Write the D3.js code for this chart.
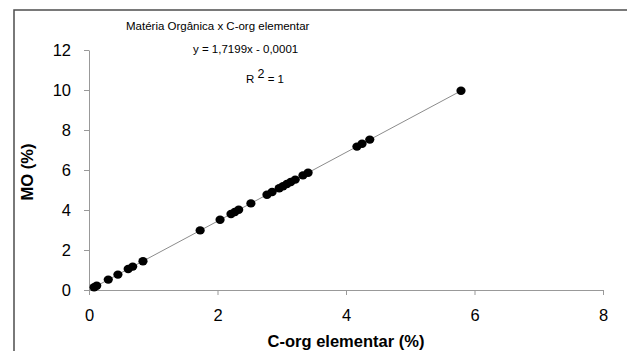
<!DOCTYPE html>
<html><head><meta charset="utf-8">
<script src="https://cdn.jsdelivr.net/npm/d3@7"></script>
<style>body{margin:0;background:#fff}svg{display:block;font-family:Arial,"Liberation Sans",sans-serif}</style>
</head><body><svg id="c" width="627" height="351"></svg>
<script>
const corgX = [0.08,0.12,0.3,0.45,0.61,0.68,0.84,1.73,2.04,2.21,2.27,2.33,2.52,2.77,2.85,2.96,3.02,3.08,3.14,3.21,3.33,3.41,4.17,4.25,4.37,5.79];
const moY   = [0.14,0.21,0.52,0.77,1.05,1.17,1.44,2.98,3.51,3.80,3.90,4.01,4.33,4.76,4.90,5.09,5.19,5.30,5.40,5.52,5.73,5.86,7.17,7.31,7.52,9.96];
const xTicks = [0,2,4,6,8];
const yTicks = [0,2,4,6,8,10,12];
const slope = 1.7199, intercept = -0.0001;
const titleText = "Matéria Orgânica x C-org elementar";
const eqText = "y = 1,7199x - 0,0001";
const xTitle = "C-org elementar (%)";
const yTitle = "MO (%)";

const svg = d3.select("#c");
svg.append("rect").attr("x",14).attr("y",10).attr("width",640).attr("height",400)
  .attr("fill","#fff").attr("stroke","#4d4d4d").attr("stroke-width",1.5);

const x = d3.scaleLinear().domain([0,8]).range([89,603]);
const y = d3.scaleLinear().domain([0,12]).range([290,50]);

const gx = svg.append("g").attr("transform","translate(0,290)")
  .call(d3.axisBottom(x).tickValues(xTicks).tickSize(5).tickPadding(14).tickSizeOuter(0));
const gy = svg.append("g").attr("transform","translate(89,0)")
  .call(d3.axisLeft(y).tickValues(yTicks).tickSize(5).tickPadding(13).tickSizeOuter(0));
[gx,gy].forEach(g=>{
  g.select(".domain").attr("stroke","#999");
  g.selectAll(".tick line").attr("stroke","#999");
  g.selectAll(".tick text").attr("font-size",16.5).attr("fill","#000").attr("font-family","Arial, 'Liberation Sans', sans-serif");
});

const xr=[0, d3.max(corgX)];
svg.append("line").attr("x1",x(xr[0])).attr("y1",y(slope*xr[0]+intercept))
  .attr("x2",x(xr[1])).attr("y2",y(slope*xr[1]+intercept))
  .attr("stroke","#8c8c8c").attr("stroke-width",1);

svg.append("g").selectAll("ellipse").data(corgX).join("ellipse")
  .attr("cx",(d)=>x(d)).attr("cy",(d,i)=>y(moY[i])).attr("rx",4.6).attr("ry",4.2).attr("fill","#000");

svg.append("text").attr("x",126).attr("y",30).attr("font-size",11.5).text(titleText);
svg.append("text").attr("x",193).attr("y",53).attr("font-size",11.5).text(eqText);
const r2 = svg.append("text").attr("x",246).attr("y",83).attr("font-size",11.5);
r2.append("tspan").text("R ");
r2.append("tspan").attr("dy",-5).attr("font-size",12.5).text("2");
r2.append("tspan").attr("dy",5).text(" = 1");

svg.append("text").attr("x",346).attr("y",347).attr("text-anchor","middle")
  .attr("font-size",16.5).attr("font-weight","bold").text(xTitle);
svg.append("text").attr("transform","translate(33,172) rotate(-90)").attr("text-anchor","middle")
  .attr("font-size",16.5).attr("font-weight","bold").text(yTitle);
</script></body></html>
